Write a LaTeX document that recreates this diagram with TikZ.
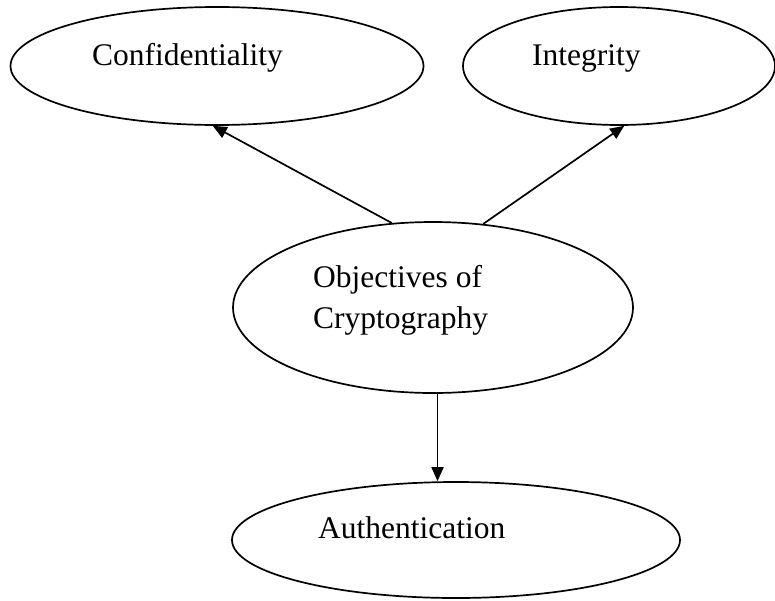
\documentclass[tikz,border=0pt]{standalone}
\usepackage{fontspec}
\setmainfont{Liberation Serif}
\usetikzlibrary{shapes.geometric,arrows.meta}

\begin{document}
\begin{tikzpicture}[x=1pt,y=-1pt,
  goal/.style={draw, ellipse, line width=1.7pt, inner sep=0pt},
  caption/.style={anchor=base west, inner sep=0pt, font=\fontsize{31.5}{41}\selectfont},
  link/.style={line width=1.7pt, -{Triangle[length=14pt,width=12pt]}}]
  \useasboundingbox (0,0) rectangle (775,600);

  % the four ellipses
  \node[goal, minimum width=413pt, minimum height=118pt] (conf) at (217,66) {};
  \node[goal, minimum width=312pt, minimum height=118pt] (integ) at (619,66) {};
  \node[goal, minimum width=400pt, minimum height=171pt] (obj) at (433,307.5) {};
  \node[goal, minimum width=448pt, minimum height=116pt] (auth) at (456,540) {};

  % their texts
  \node[caption] (tconf) at (92,65) {Confidentiality};
  \node[caption] (tinteg) at (532,65) {Integrity};
  \node[caption] (tobj1) at (313,287) {Objectives of};
  \node[caption] (tobj2) at (313,328) {Cryptography};
  \node[caption] (tauth) at (318,538) {Authentication};

  % arrows from the centre goal
  \draw[link] (obj.116) -- (conf.266);
  \draw[link] (obj.59.4) -- (integ.275.5);
  \draw[link] (obj.273) -- (obj.273 |- auth.north);
\end{tikzpicture}
\end{document}
